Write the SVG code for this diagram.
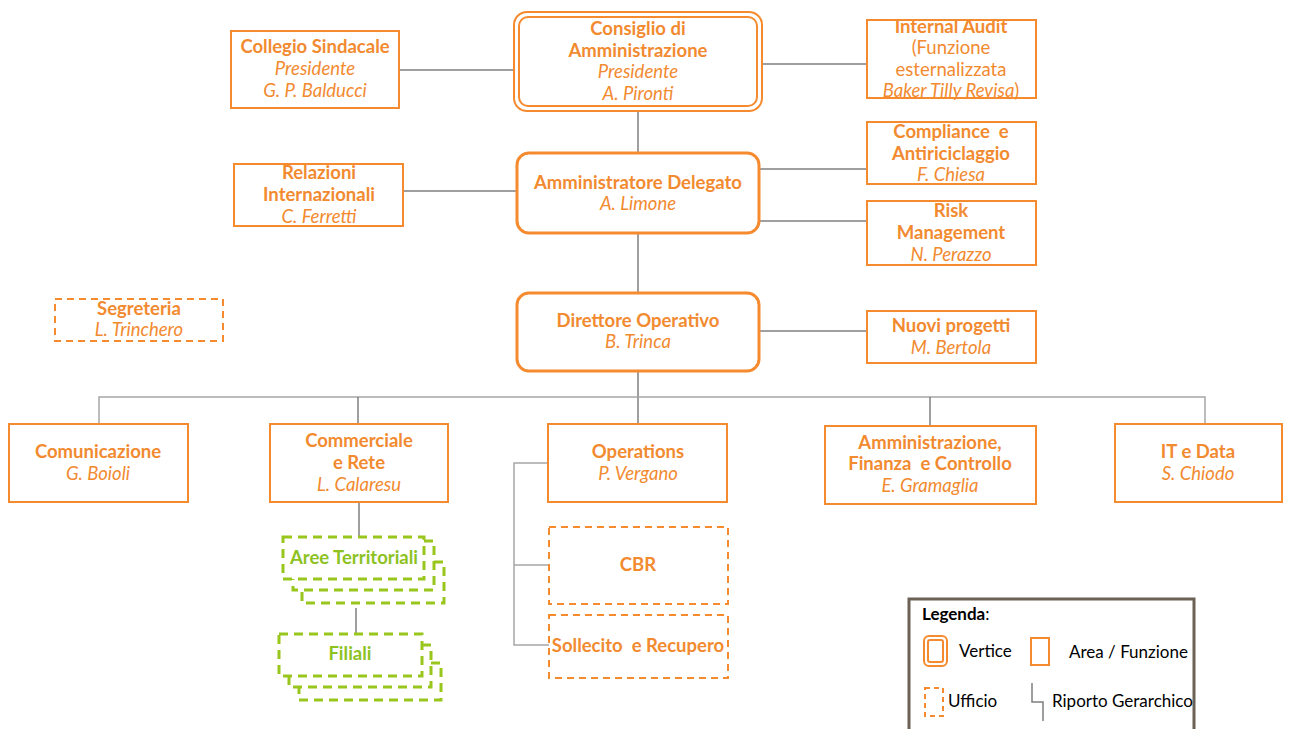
<svg xmlns="http://www.w3.org/2000/svg" width="1293" height="729" viewBox="0 0 1293 729">
<defs>
<style>
.bg{fill:#ffffff}
.box{fill:#ffffff;stroke:#F58A2E;stroke-width:2}
.vtx{fill:none;stroke:#F58A2E;stroke-width:3}
.vtx2{fill:none;stroke:#F58A2E;stroke-width:2}
.dash{fill:#ffffff;stroke:#F58A2E;stroke-width:2;stroke-dasharray:7 5}
.gdash{fill:#ffffff;stroke:#99C61C;stroke-width:3;stroke-dasharray:9 6}
.gdashl{fill:none;stroke:#99C61C;stroke-width:3;stroke-dasharray:9 6}
.ln{fill:none;stroke:#7F7F7F;stroke-width:1.5}
.lnl{fill:none;stroke:#A6A6A6;stroke-width:1.5}
text{font-family:Lato,"Liberation Sans",sans-serif;font-size:18.5px;fill:#F28A30;text-anchor:middle}
.b{font-weight:bold}
.i{font-style:italic}
.g{fill:#8DC21F;font-weight:bold}
.lg{fill:#000000;text-anchor:start;font-size:17px}
</style>
</defs>
<rect class="bg" x="0" y="0" width="1293" height="729"/>
<g id="connectors">
<line class="ln" x1="399" y1="70" x2="514" y2="70"/>
<line class="ln" x1="762" y1="64" x2="867" y2="64"/>
<line class="ln" x1="638" y1="111" x2="638" y2="153"/>
<line class="ln" x1="403" y1="191" x2="517" y2="191"/>
<line class="ln" x1="759" y1="169" x2="867" y2="169"/>
<line class="ln" x1="759" y1="221" x2="867" y2="221"/>
<line class="ln" x1="638" y1="233" x2="638" y2="293"/>
<line class="ln" x1="759" y1="331" x2="867" y2="331"/>
<line class="ln" x1="638" y1="371" x2="638" y2="424"/>
<polyline class="lnl" points="99,424 99,397 1205,397 1205,424"/>
<line class="ln" x1="358" y1="397" x2="358" y2="424"/>
<line class="ln" x1="930" y1="397" x2="930" y2="426"/>
<polyline class="lnl" points="548,463 514,463 514,645 549,645"/>
<line class="lnl" x1="514" y1="565" x2="549" y2="565"/>
<line class="ln" x1="359" y1="502" x2="359" y2="537"/>
<line class="ln" x1="356" y1="608" x2="356" y2="634"/>
</g>
<g id="consiglio">
<rect class="vtx2" x="514" y="12" width="248" height="99" rx="13"/>
<rect class="vtx2" x="519" y="17" width="238" height="89" rx="9"/>
<text class="b" x="638" y="35">Consiglio di</text>
<text class="b" x="638" y="57">Amministrazione</text>
<text class="i" x="638" y="78">Presidente</text>
<text class="i" x="638" y="100">A. Pironti</text>
</g>
<g id="collegio">
<rect class="box" x="231" y="31" width="168" height="77"/>
<text class="b" x="315" y="53">Collegio Sindacale</text>
<text class="i" x="315" y="75">Presidente</text>
<text class="i" x="315" y="97">G. P. Balducci</text>
</g>
<g id="internal-audit">
<rect class="box" x="867" y="20" width="169" height="78"/>
<text class="b" x="951" y="33">Internal Audit</text>
<text x="951" y="54">(Funzione</text>
<text x="951" y="76">esternalizzata</text>
<text x="951" y="97"><tspan class="i">Baker Tilly Revisa</tspan>)</text>
</g>
<g id="ad">
<rect class="vtx" x="517" y="153" width="242" height="80" rx="12"/>
<text class="b" x="638" y="189">Amministratore Delegato</text>
<text class="i" x="638" y="210">A. Limone</text>
</g>
<g id="relazioni">
<rect class="box" x="234" y="164" width="169" height="62"/>
<text class="b" x="319" y="179">Relazioni</text>
<text class="b" x="319" y="201">Internazionali</text>
<text class="i" x="319" y="223">C. Ferretti</text>
</g>
<g id="compliance">
<rect class="box" x="867" y="122" width="169" height="62"/>
<text class="b" x="951" y="138">Compliance&#160; e</text>
<text class="b" x="951" y="160">Antiriciclaggio</text>
<text class="i" x="951" y="181">F. Chiesa</text>
</g>
<g id="risk">
<rect class="box" x="867" y="201" width="169" height="64"/>
<text class="b" x="951" y="217">Risk</text>
<text class="b" x="951" y="239">Management</text>
<text class="i" x="951" y="261">N. Perazzo</text>
</g>
<g id="segreteria">
<rect class="dash" x="55" y="299" width="168" height="42"/>
<text class="b" x="139" y="315">Segreteria</text>
<text class="i" x="139" y="336">L. Trinchero</text>
</g>
<g id="do">
<rect class="vtx" x="517" y="293" width="242" height="78" rx="12"/>
<text class="b" x="638" y="327">Direttore Operativo</text>
<text class="i" x="638" y="348">B. Trinca</text>
</g>
<g id="nuovi">
<rect class="box" x="867" y="311" width="169" height="52"/>
<text class="b" x="951" y="332">Nuovi progetti</text>
<text class="i" x="951" y="354">M. Bertola</text>
</g>
<g id="comunicazione">
<rect class="box" x="9" y="424" width="179" height="78"/>
<text class="b" x="98" y="458">Comunicazione</text>
<text class="i" x="98" y="480">G. Boioli</text>
</g>
<g id="commerciale">
<rect class="box" x="270" y="424" width="178" height="78"/>
<text class="b" x="359" y="447">Commerciale</text>
<text class="b" x="359" y="469">e Rete</text>
<text class="i" x="359" y="491">L. Calaresu</text>
</g>
<g id="operations">
<rect class="box" x="548" y="424" width="179" height="78"/>
<text class="b" x="638" y="458">Operations</text>
<text class="i" x="638" y="480">P. Vergano</text>
</g>
<g id="afc">
<rect class="box" x="825" y="426" width="211" height="78"/>
<text class="b" x="930" y="449">Amministrazione,</text>
<text class="b" x="930" y="470">Finanza&#160; e Controllo</text>
<text class="i" x="930" y="492">E. Gramaglia</text>
</g>
<g id="it-data">
<rect class="box" x="1115" y="424" width="167" height="78"/>
<text class="b" x="1198" y="458">IT e Data</text>
<text class="i" x="1198" y="480">S. Chiodo</text>
</g>
<g id="cbr">
<rect class="dash" x="549" y="527" width="179" height="77"/>
<text class="b" x="638" y="571">CBR</text>
</g>
<g id="sollecito">
<rect class="dash" x="549" y="615" width="179" height="63"/>
<text class="b" x="638" y="652">Sollecito&#160; e Recupero</text>
</g>
<g id="aree-territoriali">
<polyline class="gdashl" points="434,562 444,562 444,603 302,603 302,590"/>
<polyline class="gdashl" points="424,541 434,541 434,590 293,590 293,579"/>
<rect class="gdash" x="283" y="537" width="141" height="42"/>
<text class="g" x="354" y="564">Aree Territoriali</text>
</g>
<g id="filiali">
<polyline class="gdashl" points="431,663 441,663 441,700 299,700 299,687"/>
<polyline class="gdashl" points="422,645 431,645 431,687 289,687 289,676"/>
<rect class="gdash" x="279" y="634" width="143" height="42"/>
<text class="g" x="350" y="660">Filiali</text>
</g>
<g id="legenda">
<rect x="909" y="599" width="285" height="140" fill="#ffffff" stroke="#6B6155" stroke-width="3"/>
<text class="lg" x="922" y="620"><tspan font-weight="bold">Legenda</tspan>:</text>
<rect class="vtx2" x="924" y="636" width="23" height="30" rx="5"/>
<rect class="vtx2" x="928" y="640" width="15" height="22" rx="2"/>
<text class="lg" x="959" y="657">Vertice</text>
<rect class="box" x="1031" y="638" width="18" height="27"/>
<text class="lg" x="1069" y="658">Area / Funzione</text>
<rect x="925" y="688" width="18" height="28" fill="none" stroke="#F58A2E" stroke-width="2" stroke-dasharray="5 4"/>
<text class="lg" x="948" y="707">Ufficio</text>
<polyline class="ln" points="1032,683 1032,702 1043,702 1043,721"/>
<text class="lg" x="1052" y="707">Riporto Gerarchico</text>
</g>
</svg>
